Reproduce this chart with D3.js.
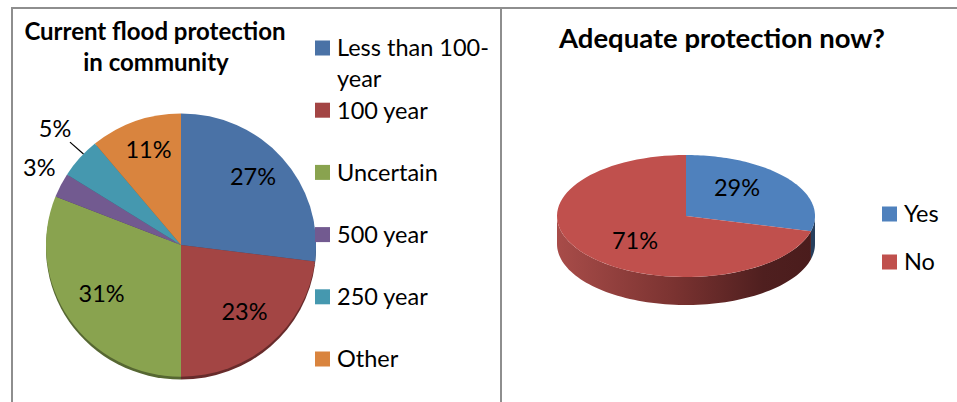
<!DOCTYPE html>
<html>
<head>
<meta charset="utf-8">
<script src="https://cdn.jsdelivr.net/npm/d3@7"></script>
<style>
  body { margin: 0; background: #fff; }
  svg { display: block; font-family: Lato, "Open Sans", sans-serif; }
</style>
</head>
<body>
<div id="chart"></div>
<script>
// Data
var floodCats = ["Less than 100-year", "100 year", "Uncertain", "500 year", "250 year", "Other"];
var floodVals = [27, 23, 31, 3, 5, 11];
var floodColors = ["#4a72a6", "#a34544", "#89a34f", "#725a90", "#4598af", "#d9843e"];

var adequateCats = ["Yes", "No"];
var adequateVals = [29, 71];
var adequateColors = ["#4f81bd", "#c0504d"];

var svgW = 957, svgH = 402;
var fs = 23.5;

var svg = d3.select("#chart").append("svg")
  .attr("width", svgW)
  .attr("height", svgH);

var defs = svg.append("defs");

// panel frames
svg.append("line").attr("x1", 11).attr("x2", svgW).attr("y1", 8).attr("y2", 8)
  .attr("stroke", "#8e8e8e").attr("stroke-width", 2);
svg.append("line").attr("x1", 12).attr("x2", 12).attr("y1", 7).attr("y2", svgH)
  .attr("stroke", "#8e8e8e").attr("stroke-width", 2);
svg.append("line").attr("x1", 501).attr("x2", 501).attr("y1", 7).attr("y2", svgH)
  .attr("stroke", "#8e8e8e").attr("stroke-width", 2);

var pie = d3.pie().sort(null).value(d => d);
var pct = function (d, arr) { return Math.round(d.value / d3.sum(arr) * 100) + "%"; };

// ---------- Left: Current flood protection ----------
var left = svg.append("g");

left.append("text")
  .attr("x", 155).attr("y", 40)
  .attr("text-anchor", "middle")
  .attr("font-weight", "bold").attr("font-size", 24)
  .text("Current flood protection");
left.append("text")
  .attr("x", 156).attr("y", 71)
  .attr("text-anchor", "middle")
  .attr("font-weight", "bold").attr("font-size", 24)
  .text("in community");

var r1 = 135;
var floodArcs = pie(floodVals);
var arc = d3.arc().innerRadius(0).outerRadius(r1);
var pieG = left.append("g")
  .attr("transform", "translate(181,245) scale(1,0.975)");

// darker rim underneath
pieG.append("g").attr("transform", "translate(0,3)")
  .selectAll("path").data(floodArcs).enter().append("path")
  .attr("d", arc)
  .attr("fill", (d, i) => d3.color(floodColors[i]).darker(1.3));

pieG.append("g").selectAll("path").data(floodArcs).enter().append("path")
  .attr("d", arc)
  .attr("fill", (d, i) => floodColors[i]);

var midA = d => (d.startAngle + d.endAngle) / 2;
var share = d => d.value / d3.sum(floodVals);
var lblG = left.append("g").attr("transform", "translate(181,240)");
var outside = 0;
floodArcs.forEach(function (d) {
  var a = midA(d), rr;
  if (share(d) < 0.08) {
    // small slices sit outside; the next one is pushed further with a leader
    rr = outside === 0 ? 159 : 168;
    if (outside > 0) {
      lblG.append("line")
        .attr("x1", 148 * Math.sin(a)).attr("y1", -148 * Math.cos(a))
        .attr("x2", 130 * Math.sin(a)).attr("y2", -130 * Math.cos(a))
        .attr("stroke", "#000").attr("stroke-width", 1.2);
    }
    outside++;
  } else {
    rr = 96;
  }
  lblG.append("text")
    .attr("x", rr * Math.sin(a)).attr("y", -rr * Math.cos(a))
    .attr("dy", "0.36em")
    .attr("text-anchor", "middle")
    .attr("font-size", fs)
    .text(pct(d, floodVals));
});

// legend
var legL = left.append("g").attr("transform", "translate(315,48)");
floodCats.forEach(function (c, i) {
  var g = legL.append("g").attr("transform", "translate(0," + (i * 62.2) + ")");
  g.append("rect").attr("x", 0).attr("y", -7.5).attr("width", 15).attr("height", 15)
    .attr("fill", floodColors[i]);
  var lines = c.length > 12 && c.indexOf("-") > 0
    ? [c.slice(0, c.indexOf("-") + 1), c.slice(c.indexOf("-") + 1)]
    : [c];
  lines.forEach(function (t, j) {
    g.append("text").attr("x", 22).attr("y", j * 31)
      .attr("dy", "0.36em").attr("font-size", fs).text(t);
  });
});

// ---------- Right: Adequate protection now? ----------
var right = svg.append("g");
right.append("text")
  .attr("x", 722).attr("y", 48)
  .attr("text-anchor", "middle")
  .attr("font-weight", "bold").attr("font-size", 27.5)
  .text("Adequate protection now?");

var cx = 686, cy = 216, rx = 129, ry = 61, depth = 28;
var pt = (t, dy) => [cx + rx * Math.sin(t), cy - ry * Math.cos(t) + (dy || 0)];
var adequateArcs = pie(adequateVals);

var grad = defs.append("linearGradient").attr("id", "sideGrad")
  .attr("gradientUnits", "userSpaceOnUse")
  .attr("x1", cx - rx).attr("x2", cx + rx).attr("y1", 0).attr("y2", 0);
[[0, "#a84c49"], [0.45, "#7b3331"], [0.8, "#4f1f1f"], [1, "#4a1c1c"]].forEach(function (s) {
  grad.append("stop").attr("offset", s[0]).attr("stop-color", s[1]);
});

var line = d3.line();
var steps = 80;
// sides (front half only)
adequateArcs.forEach(function (d, i) {
  var s = Math.max(d.startAngle, Math.PI / 2), e = Math.min(d.endAngle, 3 * Math.PI / 2);
  if (s >= e) return;
  var topEdge = d3.range(steps + 1).map(k => pt(s + (e - s) * k / steps));
  var botEdge = topEdge.slice().reverse().map(p => [p[0], p[1] + depth]);
  right.append("path")
    .attr("d", line(topEdge.concat(botEdge)) + "Z")
    .attr("fill", i === 1 ? "url(#sideGrad)" : d3.color(adequateColors[i]).darker(2));
});
// top faces
adequateArcs.forEach(function (d, i) {
  var edge = d3.range(steps + 1).map(k => pt(d.startAngle + (d.endAngle - d.startAngle) * k / steps));
  right.append("path")
    .attr("d", line([[cx, cy]].concat(edge)) + "Z")
    .attr("fill", adequateColors[i]);
});
adequateArcs.forEach(function (d) {
  var a = midA(d);
  right.append("text")
    .attr("x", cx + 0.5 * rx * Math.sin(a))
    .attr("y", cy - 2 - 0.7 * ry * Math.cos(a))
    .attr("dy", "0.36em")
    .attr("text-anchor", "middle")
    .attr("font-size", fs)
    .text(pct(d, adequateVals));
});

var legR = right.append("g").attr("transform", "translate(882,214)");
adequateCats.forEach(function (c, i) {
  var g = legR.append("g").attr("transform", "translate(0," + (i * 48) + ")");
  g.append("rect").attr("x", 0).attr("y", -7.5).attr("width", 15).attr("height", 15)
    .attr("fill", adequateColors[i]);
  g.append("text").attr("x", 22).attr("dy", "0.36em").attr("font-size", fs).text(c);
});
</script>
</body>
</html>
